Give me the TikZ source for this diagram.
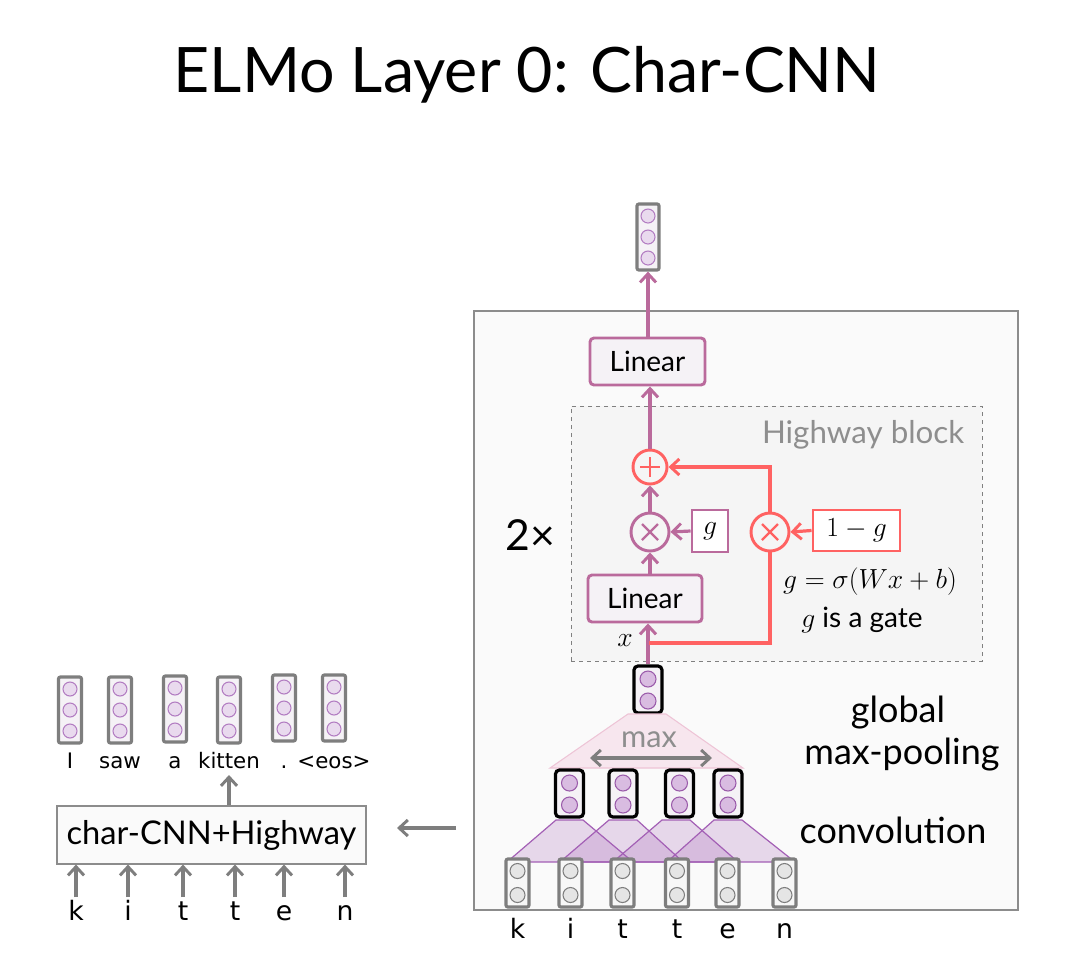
\documentclass[tikz,border=0pt]{standalone}
\usepackage{fontspec}
\setmainfont{Lato}
\newfontfamily\letfont{DejaVu Sans}
\usetikzlibrary{arrows.meta,calc}
\definecolor{pur}{HTML}{BA6A9C}
\definecolor{redc}{HTML}{FF6262}
\definecolor{dotf}{HTML}{E9DAEE}
\definecolor{dotd}{HTML}{B27CC2}
\definecolor{dotf2}{HTML}{D9BCE1}
\definecolor{dotd2}{HTML}{9A5AAA}
\definecolor{vgray}{HTML}{7E7E7E}
\definecolor{vfill}{HTML}{F5F2F6}
\definecolor{txtgray}{HTML}{8E8E8E}
\definecolor{convc}{HTML}{A35FB5}
\definecolor{poolf}{HTML}{F7E6EE}
\definecolor{poold}{HTML}{EEC4D6}
\begin{document}
\begin{tikzpicture}[x=0.75pt,y=-0.75pt,
  tip/.tip={Straight Barb[length=6.5pt,width=12pt,line width=2.2pt]},
  arr/.style={-tip, line width=2.4pt},
  vec/.style={draw=vgray, line width=2.4pt, fill=vfill, rounded corners=1.5pt, inner sep=0pt},
  bvec/.style={draw=black, line width=2.4pt, fill=vfill, rounded corners=3pt, inner sep=0pt, minimum width={28*0.75pt}, minimum height={47*0.75pt}},
  gvec/.style={draw=vgray, line width=2.4pt, fill=black!3, rounded corners=1.5pt, inner sep=0pt, minimum width={23*0.75pt}, minimum height={48*0.75pt}},
  dot/.style={circle, draw=dotd, fill=dotf, line width=0.8pt, inner sep=0pt, minimum size={14*0.75pt}},
  bdot/.style={circle, draw=dotd2, fill=dotf2, line width=0.8pt, inner sep=0pt, minimum size={16*0.75pt}},
  gdot/.style={circle, draw=vgray, fill=black!10, line width=0.8pt, inner sep=0pt, minimum size={15*0.75pt}},
  linbox/.style={draw=pur, line width=2.2pt, fill=vfill, rounded corners=3pt, inner sep=0pt, font=\fontsize{21}{24}\selectfont},
  opc/.style={circle, line width=2.2pt, inner sep=0pt},
  lbl/.style={font=\fontsize{27}{30}\selectfont},
  letter/.style={font=\letfont\fontsize{20}{24}\selectfont, anchor=base},
  word/.style={font=\letfont\fontsize{16}{20}\selectfont, anchor=base},
  garr/.style={-tip, line width=2.4pt, draw=vgray}
]
\useasboundingbox (0,0) rectangle (1072,976);
\fill[white] (0,0) rectangle (1072,976);

% title
\node[font=\fontsize{47}{54}\selectfont] (title) at (527,75) {ELMo Layer 0: Char-CNN};

% outer box
\node[draw=black!45, fill=black!2, line width=0.8pt, minimum width={544*0.75pt}, minimum height={599*0.75pt}, inner sep=0pt] (outer) at (746,610.5) {};

% highway block
\node[draw=black!50, dashed, fill=black!4, line width=0.7pt, minimum width={411*0.75pt}, minimum height={255*0.75pt}, inner sep=0pt] (hw) at (776.5,533.5) {};
\node[anchor=east, text=txtgray, font=\fontsize{23.5}{27}\selectfont] (hwlabel) at (969,435) {Highway block};

% output vector
\node[vec, minimum width={22*0.75pt}, minimum height={66*0.75pt}] (outv) at (648,237) {};
\foreach \i/\y in {1/216,2/237,3/258} \node[dot] (od\i) at (648,\y) {};

% top linear
\node[linbox, minimum width={115*0.75pt}, minimum height={47*0.75pt}] (lin1) at (647.5,361.5) {Linear};

% plus circle
\node[opc, draw=redc, minimum size={34*0.75pt}] (plus) at (650,467) {};
\draw[redc, line width=1.8pt] ($(plus.center)+(-10,0)$) -- ($(plus.center)+(10,0)$) ($(plus.center)+(0,-10)$) -- ($(plus.center)+(0,10)$);

% purple times
\node[opc, draw=pur, minimum size={38*0.75pt}] (mulp) at (650,532) {};
\draw[pur, line width=1.8pt] ($(mulp.center)+(-8,-8)$) -- ($(mulp.center)+(8,8)$) ($(mulp.center)+(-8,8)$) -- ($(mulp.center)+(8,-8)$);

% g box
\node[draw=pur, line width=2.2pt, fill=white, minimum width={36*0.75pt}, minimum height={42*0.75pt}, inner sep=0pt, font=\fontsize{21}{24}\selectfont] (gbox) at (710,531) {$g$};

% red times
\node[opc, draw=redc, minimum size={38*0.75pt}] (mulr) at (770,532) {};
\draw[redc, line width=1.8pt] ($(mulr.center)+(-8,-8)$) -- ($(mulr.center)+(8,8)$) ($(mulr.center)+(-8,8)$) -- ($(mulr.center)+(8,-8)$);

% 1-g box
\node[draw=redc, line width=2.2pt, fill=white, minimum width={87*0.75pt}, minimum height={41*0.75pt}, inner sep=0pt, font=\fontsize{21}{24}\selectfont] (omg) at (856.5,530.5) {$1-g$};

% lower linear
\node[linbox, minimum width={114*0.75pt}, minimum height={47*0.75pt}] (lin2) at (645,598.5) {Linear};

% labels
\node[font=\fontsize{21}{24}\selectfont] (xlab) at (625,641) {$x$};
\node[font=\fontsize{21.5}{24}\selectfont] (eq) at (870,582) {$g=\sigma(Wx+b)$};
\node[font=\fontsize{21}{24}\selectfont] (gate) at (862,620) {$g$ is a gate};
\node[font=\fontsize{32}{36}\selectfont] (two) at (530,535) {2×};

% pooled vector
\node[bvec] (pool) at (648,689.5) {};
\node[bdot] (pd1) at (648,679) {};
\node[bdot] (pd2) at (648,701) {};

% pooling trapezoid
\draw[fill=poolf, draw=poold, line width=0.8pt] (628,714) -- (666,714) -- (743,768) -- (550,768) -- cycle;
\node[text=txtgray, font=\fontsize{23}{26}\selectfont] (maxlab) at (649,740) {max};
\coordinate (mxl) at (590,758);
\coordinate (mxr) at (712,758);
\draw[tip-tip, line width=2.4pt, draw=vgray] (mxl) -- (mxr);

% conv trapezoids
\foreach \a/\b/\c/\d in {556/583/507/633, 609/637/560/683, 662/690/613/738, 714/742/667/795}
  \draw[fill=convc, fill opacity=0.22, draw=convc, line width=0.9pt] (\a,820) -- (\b,820) -- (\d,862) -- (\c,862) -- cycle;

% conv vectors
\foreach \i/\x in {1/569.5,2/623,3/679.5,4/728} {
  \node[bvec] (cv\i) at (\x,793.5) {};
  \node[bdot] (cvd\i a) at (\x,783) {};
  \node[bdot] (cvd\i b) at (\x,805) {};
}

% input vectors
\foreach \i/\x/\l in {1/517.5/k,2/570.5/i,3/622.5/t,4/677/t,5/727.5/e,6/784.5/n} {
  \node[gvec] (iv\i) at (\x,883) {};
  \node[gdot] (ivd\i a) at (\x,871) {};
  \node[gdot] (ivd\i b) at (\x,895) {};
  \node[letter] (il\i) at (\x,938) {\l};
}

% right labels
\node[lbl] (glob) at (898,713) {global};
\node[lbl] (mxp) at (902,755) {max-pooling};
\node[lbl] (conv) at (893,830) {convolution};

% arrows in the main block
\draw[arr, draw=pur] (lin1.north -| outv.south) -- (outv.south);
\draw[arr, draw=pur] (plus.north) -- (plus.north |- lin1.south);
\draw[arr, draw=pur] (mulp.north) -- (plus.south);
\draw[arr, draw=pur] (gbox.west) -- (mulp.east);
\draw[arr, draw=redc] (omg.west) -- (mulr.east);
\draw[arr, draw=redc] (mulr.north) |- (plus.east);
\draw[arr, draw=pur] (lin2.north -| mulp.south) -- (mulp.south);
\coordinate (xj) at (649,643);
\draw[arr, draw=pur] (pool.north) -- (pool.north |- lin2.south);
\draw[redc, line width=2.4pt] (xj) -| (mulr.south);

% left part
\coordinate (la1) at (456,828);
\coordinate (la2) at (397,828);
\draw[garr] (la1) -- (la2);

\node[draw=black!45, fill=black!2, line width=0.8pt, minimum width={309*0.75pt}, minimum height={58*0.75pt}, inner sep=0pt, font=\fontsize{24.5}{28}\selectfont] (cnn) at (211.5,835) {char-CNN+Highway};

\foreach \i/\x/\l in {1/76/k,2/128/i,3/183/t,4/235/t,5/284/e,6/345/n} {
  \node[letter] (bl\i) at (\x,920) {\l};
  \coordinate (ba\i) at (\x,897);
  \draw[garr] (ba\i) -- (ba\i |- cnn.south);
}

\coordinate (upend) at (229,775);
\draw[garr] (cnn.north -| upend) -- (upend);

\foreach \i/\x/\y/\w in {1/70/710/I,2/120/710/saw,3/175/709/a,4/229/710/kitten,5/284/708/.,6/334/708/<eos>} {
  \node[vec, minimum width={23*0.75pt}, minimum height={66*0.75pt}] (wv\i) at (\x,\y) {};
  \node[dot] (wvd\i a) at (\x,\y-21) {};
  \node[dot] (wvd\i b) at (\x,\y) {};
  \node[dot] (wvd\i c) at (\x,\y+21) {};
  \node[word] (w\i) at (\x,768) {\w};
}
\end{tikzpicture}
\end{document}
